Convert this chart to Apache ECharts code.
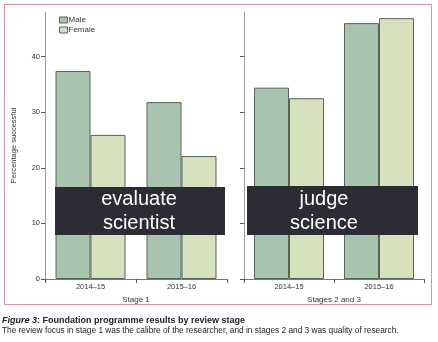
<!DOCTYPE html>
<html><head><meta charset="utf-8">
<script src="https://cdn.jsdelivr.net/npm/echarts@6/dist/echarts.min.js"></script>
<style>html,body{margin:0;padding:0;background:#fff}#c{width:438px;height:342px}</style>
</head><body><div id="c"></div>
<script>
const years = ['2014–15', '2015–16'];
const stage1Male = [37.4, 31.8];
const stage1Female = [25.9, 22.1];
const stage23Male = [34.4, 46.0];
const stage23Female = [32.5, 46.9];
const yTicks = [0, 10, 20, 30, 40];
const panelNames = ['Stage 1', 'Stages 2 and 3'];
const overlayTexts = ['evaluate\nscientist', 'judge\nscience'];
const legendNames = ['Male', 'Female'];

const maleColor = '#a9c4ae', femaleColor = '#d6e1bd', edge = '#55655a';
const font = 'Liberation Sans';
const chart = echarts.init(document.getElementById('c'));
const gridTop = 12, gridBottom = 63;
function xAxis(i, name) {
  return {type: 'category', data: years, gridIndex: i, name: name, nameLocation: 'middle', nameGap: 17,
    nameTextStyle: {fontSize: 8, color: '#333', fontFamily: font},
    axisLine: {lineStyle: {color: '#777', width: 1}},
    axisTick: {show: true, length: 4, lineStyle: {color: '#555'}},
    axisLabel: {fontSize: 7.5, color: '#333', margin: 4, fontFamily: font}};
}
function yAxis(i, showLabels) {
  return {type: 'value', gridIndex: i, min: 0, max: 48, interval: 10,
    name: showLabels ? 'Percentage successful' : '', nameLocation: 'middle', nameGap: 27,
    nameTextStyle: {fontSize: 7.5, color: '#333', fontFamily: font},
    splitLine: {show: false},
    axisLine: {show: true, lineStyle: {color: '#999', width: 1}},
    axisTick: {show: true, length: 4, customValues: yTicks, lineStyle: {color: '#555'}},
    axisLabel: {show: showLabels, customValues: yTicks, fontSize: 7.5, color: '#333', margin: 5, fontFamily: font}};
}
function bar(name, data, i, color) {
  return {type: 'bar', name: name, data: data, xAxisIndex: i, yAxisIndex: i, barWidth: 35, barGap: '0%',
    itemStyle: {color: color, borderColor: edge, borderWidth: 1}, silent: true};
}
chart.setOption({
  animation: false,
  grid: [
    {left: 45, width: 182, top: gridTop, bottom: gridBottom},
    {left: 244, width: 180, top: gridTop, bottom: gridBottom}
  ],
  xAxis: [xAxis(0, panelNames[0]), xAxis(1, panelNames[1])],
  yAxis: [yAxis(0, true), yAxis(1, false)],
  legend: {orient: 'vertical', left: 54, top: 11, icon: 'rect', itemWidth: 8, itemHeight: 6, itemGap: 2,
    data: legendNames, itemStyle: {borderColor: edge, borderWidth: 1},
    textStyle: {fontSize: 8, color: '#333', fontFamily: font, padding: [0, 0, 0, -4]}},
  series: [
    bar(legendNames[0], stage1Male, 0, maleColor),
    bar(legendNames[1], stage1Female, 0, femaleColor),
    bar(legendNames[0], stage23Male, 1, maleColor),
    bar(legendNames[1], stage23Female, 1, femaleColor)
  ],
  graphic: [
    {type: 'rect', shape: {x: 4.5, y: 4.5, width: 427, height: 300}, style: {fill: 'none', stroke: '#d9939b', lineWidth: 1}, z: 100},
    {type: 'rect', shape: {x: 55, y: 187, width: 170, height: 48}, style: {fill: '#2c2c34'}, z: 100},
    {type: 'text', x: 139, y: 211, style: {text: overlayTexts[0], fill: '#fff', font: '20px "Liberation Sans"', align: 'center', verticalAlign: 'middle', lineHeight: 24}, z: 101},
    {type: 'rect', shape: {x: 247, y: 186, width: 171, height: 49}, style: {fill: '#2c2c34'}, z: 100},
    {type: 'text', x: 324, y: 211, style: {text: overlayTexts[1], fill: '#fff', font: '20px "Liberation Sans"', align: 'center', verticalAlign: 'middle', lineHeight: 24}, z: 101},
    {type: 'text', x: 2, y: 321, style: {text: '{i|Figure 3}{b|: Foundation programme results by review stage}', verticalAlign: 'middle',
      rich: {i: {fontStyle: 'italic', fontWeight: 'bold', fontSize: 9, fill: '#222', fontFamily: font}, b: {fontWeight: 'bold', fontSize: 9, fill: '#222', fontFamily: font}}}},
    {type: 'text', x: 2, y: 330.5, style: {text: 'The review focus in stage 1 was the calibre of the researcher, and in stages 2 and 3 was quality of research.',
      font: '8.3px "Liberation Sans"', fill: '#222', verticalAlign: 'middle'}}
  ]
});
</script></body></html>
